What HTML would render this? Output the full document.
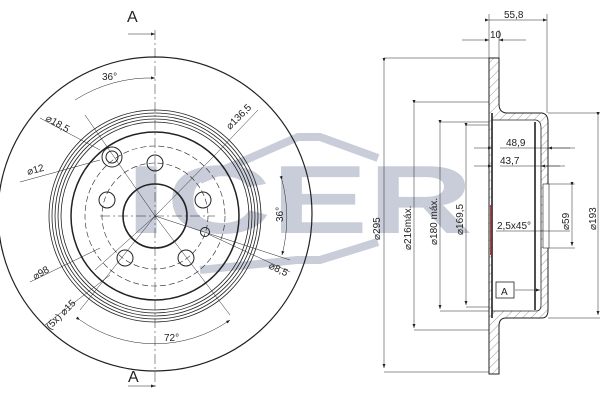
<!DOCTYPE html>
<html><head><style>body{margin:0;background:#fff}svg{display:block}text{font-family:"Liberation Sans",sans-serif}</style></head><body>
<svg width="600" height="400" viewBox="0 0 600 400" xmlns="http://www.w3.org/2000/svg">
<defs>
<pattern id="h" width="6" height="6" patternUnits="userSpaceOnUse" patternTransform="rotate(45)"><line x1="0" y1="0" x2="0" y2="6" stroke="#555" stroke-width="0.6"/></pattern>
<marker id="a" markerWidth="8" markerHeight="6" refX="8" refY="3" orient="auto"><path d="M0,0 L8,3 L0,6z" fill="#222"/></marker>
</defs>
<!-- logo -->
<g fill="#c9cdd9">
<text x="126" y="233" font-size="97" font-weight="bold" textLength="347" lengthAdjust="spacingAndGlyphs">ICER</text>
</g>
<g fill="none" stroke="#c9cdd9" stroke-width="8">
<polyline points="200,180 298,137 320,137 378,158"/>
<polyline points="200,270 297,260 320,260 378,242"/>
</g>
<g fill="none" stroke="#222">
<!-- disc front -->
<circle cx="155" cy="214" r="157" stroke-width="1.2"/>
<circle cx="155" cy="216" r="106" stroke-width="0.8"/>
<circle cx="155" cy="216" r="103" stroke-width="0.8"/>
<circle cx="155" cy="216" r="100" stroke-width="0.8"/>
<circle cx="155" cy="216" r="97" stroke-width="0.8"/>
<circle cx="155" cy="216" r="94" stroke-width="0.8"/>
<circle cx="155" cy="216" r="84" stroke-width="1.5"/>
<circle cx="155" cy="216" r="70" stroke-width="0.6" stroke-dasharray="6,3"/>
<circle cx="155" cy="216" r="53" stroke-width="0.6" stroke-dasharray="6,3"/>
<circle cx="155" cy="216" r="32" stroke-width="1.6"/>
<circle cx="155" cy="163" r="8"/>
<circle cx="107" cy="200" r="8"/>
<circle cx="203" cy="200" r="8"/>
<circle cx="125" cy="258" r="8"/>
<circle cx="186" cy="258" r="8"/>
<circle cx="205" cy="232" r="4.5"/>
<circle cx="112" cy="157" r="10"/>
<circle cx="112" cy="157" r="6"/>
<g stroke-width="0.5">
<line x1="155" y1="30" x2="155" y2="390" stroke-dasharray="10,3,2,3"/>
<line x1="100" y1="216" x2="215" y2="216" stroke-dasharray="10,3,2,3"/>
<line x1="155" y1="216" x2="215" y2="155"/>
<line x1="155" y1="216" x2="85" y2="115"/>
<line x1="155" y1="216" x2="290" y2="260"/>
<line x1="155" y1="216" x2="95" y2="270"/>
<line x1="155" y1="216" x2="80" y2="310"/>
<line x1="155" y1="216" x2="230" y2="315"/>
<line x1="40" y1="118" x2="100" y2="150"/>
<line x1="20" y1="182" x2="100" y2="160"/>
<line x1="30" y1="282" x2="100" y2="248"/>
<line x1="45" y1="325" x2="110" y2="275"/>
<line x1="215" y1="155" x2="258" y2="110"/>
<line x1="208" y1="234" x2="290" y2="272"/>
<path d="M75,100 A140,140 0 0 1 155,78" marker-end="url(#a)"/>
<path d="M80,320 A130,130 0 0 0 230,320" marker-start="url(#a)" marker-end="url(#a)"/>
<path d="M282,180 A150,150 0 0 1 282,255" marker-start="url(#a)" marker-end="url(#a)"/>
<line x1="128" y1="34" x2="155" y2="34" marker-end="url(#a)"/>
<line x1="128" y1="386" x2="155" y2="386" marker-end="url(#a)"/>
</g>
</g>
<g font-size="10" fill="#222">
<text x="127" y="22" font-size="16">A</text>
<text x="128" y="382" font-size="16">A</text>
<text x="102" y="80">36°</text>
<text x="164" y="341">72°</text>
<text x="283" y="222" transform="rotate(-90 283 222)">36°</text>
<text x="45" y="120" transform="rotate(30 45 120)">⌀18,5</text>
<text x="28" y="175" transform="rotate(-15 28 175)">⌀12</text>
<text x="230" y="130" transform="rotate(-45 230 130)">⌀136,5</text>
<text x="268" y="268" transform="rotate(25 268 268)">⌀8,5</text>
<text x="35" y="280" transform="rotate(-30 35 280)">⌀98</text>
<text x="50" y="330" transform="rotate(-45 50 330)">(5x) ⌀15</text>
</g>
<!-- section -->
<g fill="none" stroke="#222">
<path d="M489,58 H499 V104 Q499,112 506,113 H542 Q548,114 548,122 V310 Q548,318 542,318 H506 Q499,318 499,326 V374 H489 Z" fill="url(#h)" stroke-width="1"/>
<path d="M492,120 H536 Q541,121 541,128 V305 Q541,311 536,311 H492 Z" fill="#fff" stroke-width="0.8"/>
<line x1="492" y1="113" x2="492" y2="318" stroke-width="1.6"/>
<line x1="535" y1="122" x2="535" y2="310" stroke-width="1.6"/>
<rect x="543" y="184" width="6" height="64" fill="#fff" stroke-width="0.6"/>
<g stroke-width="0.5">
<line x1="384" y1="58" x2="489" y2="58"/><line x1="384" y1="372" x2="489" y2="372"/>
<line x1="384" y1="62" x2="384" y2="368" marker-start="url(#a)" marker-end="url(#a)"/>
<line x1="414" y1="102" x2="489" y2="102"/><line x1="414" y1="330" x2="489" y2="330"/>
<line x1="414" y1="104" x2="414" y2="328" marker-start="url(#a)" marker-end="url(#a)"/>
<line x1="440" y1="122" x2="489" y2="122"/><line x1="440" y1="311" x2="489" y2="311"/>
<line x1="440" y1="124" x2="440" y2="309" marker-start="url(#a)" marker-end="url(#a)"/>
<line x1="466" y1="125" x2="489" y2="125"/><line x1="466" y1="307" x2="489" y2="307"/>
<line x1="466" y1="127" x2="466" y2="305" marker-start="url(#a)" marker-end="url(#a)"/>
<line x1="548" y1="113" x2="600" y2="113"/><line x1="548" y1="318" x2="600" y2="318"/>
<line x1="598" y1="116" x2="598" y2="315" marker-start="url(#a)" marker-end="url(#a)"/>
<line x1="549" y1="184" x2="575" y2="184"/><line x1="549" y1="248" x2="575" y2="248"/>
<line x1="572" y1="186" x2="572" y2="246" marker-start="url(#a)" marker-end="url(#a)"/>
<line x1="489" y1="14" x2="489" y2="58"/><line x1="547" y1="14" x2="547" y2="113"/>
<line x1="489" y1="20" x2="547" y2="20" marker-start="url(#a)" marker-end="url(#a)"/>
<line x1="462" y1="40" x2="489" y2="40" marker-end="url(#a)"/>
<line x1="526" y1="40" x2="499" y2="40" marker-end="url(#a)"/>
<line x1="499" y1="30" x2="499" y2="58"/>
<line x1="474" y1="148" x2="492" y2="148" marker-end="url(#a)"/>
<line x1="570" y1="148" x2="548" y2="148" marker-end="url(#a)"/>
<line x1="500" y1="148" x2="575" y2="148"/>
<line x1="474" y1="166" x2="492" y2="166" marker-end="url(#a)"/>
<line x1="560" y1="166" x2="541" y2="166" marker-end="url(#a)"/>
<line x1="500" y1="166" x2="565" y2="166"/>
<line x1="496" y1="231" x2="570" y2="231"/>
<line x1="515" y1="290" x2="540" y2="290" marker-end="url(#a)"/>
</g>
<rect x="496" y="282" width="18" height="16" fill="#fff" stroke-width="0.8"/>
</g>
<line x1="490.5" y1="205" x2="490.5" y2="255" stroke="#c33" stroke-width="1"/>
<g font-size="10" fill="#222">
<text x="504" y="18">55,8</text>
<text x="490" y="38">10</text>
<text x="506" y="146">48,9</text>
<text x="500" y="164">43,7</text>
<text x="497" y="229">2,5x45°</text>
<text x="501" y="295">A</text>
<text x="380" y="240" transform="rotate(-90 380 240)">⌀295</text>
<text x="411" y="250" transform="rotate(-90 411 250)">⌀216máx.</text>
<text x="437" y="245" transform="rotate(-90 437 245)">⌀180 máx.</text>
<text x="463" y="235" transform="rotate(-90 463 235)">⌀169,5</text>
<text x="569" y="230" transform="rotate(-90 569 230)">⌀59</text>
<text x="596" y="230" transform="rotate(-90 596 230)">⌀193</text>
</g>
</svg>
</body></html>
